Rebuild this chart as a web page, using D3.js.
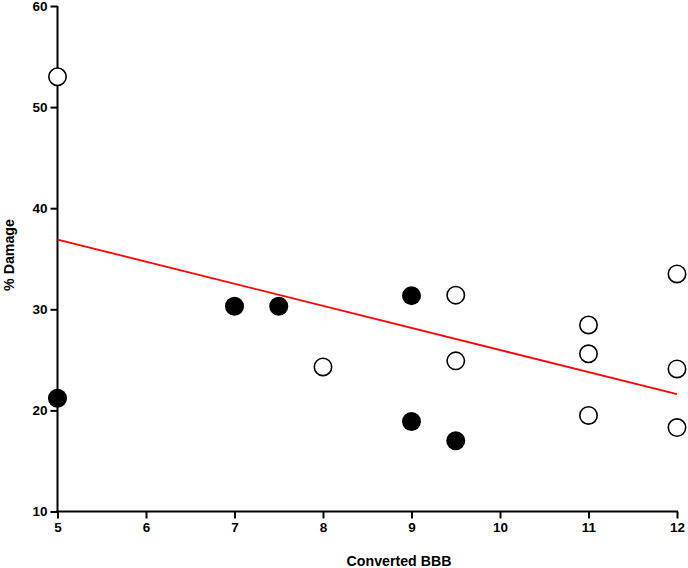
<!DOCTYPE html>
<html><head><meta charset="utf-8">
<script src="https://cdn.jsdelivr.net/npm/d3@7"></script>
<style>body{margin:0;background:#fff}svg{display:block}</style>
</head><body><svg id="c" width="688" height="568"></svg>
<script>
const openX = [5, 8, 9.5, 9.5, 11, 11, 11, 12, 12, 12];
const openY = [53.0, 24.3, 31.4, 24.9, 28.45, 25.6, 19.5, 33.5, 24.1, 18.3];
const filledX = [5, 7, 7.5, 9, 9, 9.5];
const filledY = [21.2, 30.3, 30.3, 31.35, 18.9, 17.0];
const fitX = [5, 12];
const fitY = [36.9, 21.6];
const xTicks = [5, 6, 7, 8, 9, 10, 11, 12];
const yTicks = [10, 20, 30, 40, 50, 60];
const xTitle = "Converted BBB";
const yTitle = "% Damage";

const FONT = "'Liberation Sans', Arial, sans-serif";
const svg = d3.select("#c");
const x = d3.scaleLinear().domain([5, 12]).range([57.5, 677]);
const y = d3.scaleLinear().domain([10, 60]).range([511.5, 6]);

const gx = svg.append("g").attr("transform", "translate(0,511.5)")
  .call(d3.axisBottom(x).tickValues(xTicks).tickFormat(d3.format("d")).tickSize(7).tickPadding(4).tickSizeOuter(0));
const gy = svg.append("g").attr("transform", "translate(57.5,0)")
  .call(d3.axisLeft(y).tickValues(yTicks).tickFormat(d3.format("d")).tickSize(7).tickPadding(3).tickSizeOuter(0));
[gx, gy].forEach(g => {
  g.attr("font-size", 13.5).attr("font-family", FONT).attr("font-weight", "bold");
  g.select(".domain").attr("stroke", "#000").attr("stroke-width", 2);
  g.selectAll(".tick line").attr("stroke", "#000").attr("stroke-width", 2);
  g.selectAll(".tick text").attr("fill", "#000");
});
gy.select(".domain").attr("d", `M0,${y(60)}V${y(10)+1}`);
gx.select(".domain").attr("d", `M${x(5)-1},0H${x(12)+1}`);

svg.append("text").attr("x", 399).attr("y", 565.5).attr("text-anchor", "middle")
  .attr("font-family", FONT).attr("font-weight", "bold").attr("font-size", 14.2).text(xTitle);
svg.append("text").attr("transform", `translate(14,255) rotate(-90)`)
  .attr("text-anchor", "middle").attr("font-family", FONT).attr("font-weight", "bold")
  .attr("font-size", 14.2).text(yTitle);

svg.append("line").attr("x1", x(fitX[0])).attr("y1", y(fitY[0]))
  .attr("x2", x(fitX[1])).attr("y2", y(fitY[1]))
  .attr("stroke", "#ff0000").attr("stroke-width", 1.8);

svg.append("g").selectAll("circle").data(filledX.map((d, i) => [d, filledY[i]])).join("circle")
  .attr("cx", d => x(d[0])).attr("cy", d => y(d[1])).attr("r", 9.5).attr("fill", "#000");
svg.append("g").selectAll("circle").data(openX.map((d, i) => [d, openY[i]])).join("circle")
  .attr("cx", d => x(d[0])).attr("cy", d => y(d[1])).attr("r", 8.7)
  .attr("fill", "#fff").attr("stroke", "#000").attr("stroke-width", 1.6);
</script></body></html>
